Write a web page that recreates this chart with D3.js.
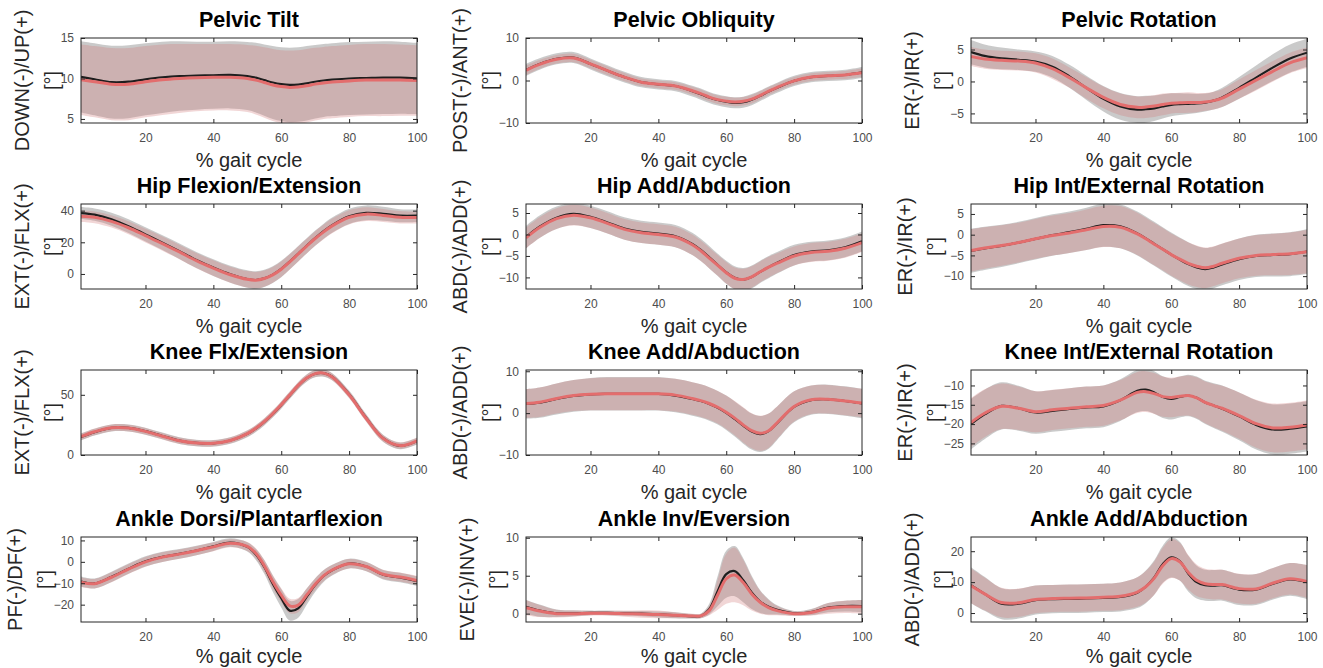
<!DOCTYPE html>
<html>
<head>
<meta charset="utf-8">
<script src="https://cdn.jsdelivr.net/npm/d3@7"></script>
<style>
    body { margin: 0; background: #fff; }
    svg { display: block; font-family: "Liberation Sans", Arial, sans-serif; }
</style>
</head>
<body>
<svg id="chart" width="1323" height="668"></svg>
<script>
// Gait cycle sample points (%).
const pct = [1, 5, 10, 15, 20, 25, 30, 35, 40, 45, 50, 52.5, 55, 57.5, 60, 62.5, 65, 67.5, 70, 72.5, 75, 80, 85, 90, 95, 100];
const xTicks = [20, 40, 60, 80, 100];

// Pelvic tilt.
const tiltBlack   = [10.2, 9.9, 9.55, 9.6, 9.9, 10.15, 10.3, 10.35, 10.4, 10.45, 10.3, 10.1, 9.8, 9.5, 9.3, 9.2, 9.25, 9.4, 9.6, 9.75, 9.85, 10.0, 10.05, 10.1, 10.1, 10.0];
const tiltBlackSd = [4.4, 4.45, 4.5, 4.5, 4.45, 4.4, 4.3, 4.2, 4.15, 4.15, 4.2, 4.3, 4.4, 4.5, 4.55, 4.6, 4.6, 4.6, 4.55, 4.5, 4.5, 4.5, 4.5, 4.5, 4.45, 4.4];
const tiltRed     = [9.85, 9.6, 9.3, 9.3, 9.6, 9.85, 10.0, 10.1, 10.15, 10.15, 10.0, 9.8, 9.5, 9.2, 9.0, 8.9, 8.95, 9.1, 9.3, 9.45, 9.55, 9.7, 9.8, 9.8, 9.8, 9.75];
const tiltRedSd   = [4.35, 4.4, 4.45, 4.45, 4.4, 4.35, 4.25, 4.15, 4.1, 4.1, 4.15, 4.25, 4.35, 4.45, 4.5, 4.55, 4.55, 4.55, 4.5, 4.45, 4.45, 4.45, 4.45, 4.45, 4.4, 4.35];

// Pelvic obliquity.
const oblBlack   = [2.5, 3.9, 5.1, 5.4, 3.9, 2.3, 0.8, -0.4, -0.9, -1.3, -2.5, -3.2, -4.0, -4.6, -5.0, -5.25, -5.1, -4.5, -3.6, -2.6, -1.7, -0.1, 0.8, 1.1, 1.3, 1.9];
const oblBlackSd = [1.4, 1.35, 1.3, 1.3, 1.3, 1.3, 1.25, 1.2, 1.2, 1.2, 1.25, 1.3, 1.3, 1.3, 1.3, 1.3, 1.3, 1.3, 1.25, 1.2, 1.2, 1.2, 1.2, 1.2, 1.25, 1.3];
const oblRed     = [2.4, 3.8, 5.0, 5.3, 3.9, 2.3, 0.8, -0.4, -0.9, -1.3, -2.4, -3.1, -3.9, -4.5, -4.85, -5.05, -4.9, -4.4, -3.5, -2.5, -1.6, -0.1, 0.8, 1.1, 1.3, 1.8];
const oblRedSd   = [1.1, 1.05, 1.0, 1.0, 1.0, 1.0, 0.95, 0.9, 0.9, 0.9, 0.95, 1.0, 1.0, 1.0, 1.0, 1.0, 1.0, 1.0, 0.95, 0.9, 0.9, 0.9, 0.9, 0.9, 0.95, 1.0];

// Pelvic rotation.
const rotBlack   = [4.6, 4.0, 3.6, 3.4, 3.1, 2.3, 0.8, -1.0, -2.7, -3.9, -4.4, -4.35, -4.2, -3.9, -3.65, -3.55, -3.5, -3.45, -3.3, -3.0, -2.5, -1.0, 0.6, 2.2, 3.6, 4.5];
const rotBlackSd = [1.9, 1.8, 1.7, 1.6, 1.6, 1.7, 1.8, 1.9, 2.0, 2.1, 2.1, 2.1, 2.0, 1.9, 1.8, 1.7, 1.6, 1.5, 1.4, 1.4, 1.5, 1.7, 1.9, 2.1, 2.2, 2.2];
const rotRed     = [3.9, 3.5, 3.3, 3.2, 2.9, 2.0, 0.6, -1.0, -2.5, -3.6, -4.05, -4.0, -3.85, -3.6, -3.4, -3.35, -3.3, -3.3, -3.2, -3.0, -2.6, -1.2, 0.2, 1.6, 2.9, 3.7];
const rotRedSd   = [1.5, 1.5, 1.5, 1.5, 1.5, 1.6, 1.6, 1.7, 1.7, 1.7, 1.7, 1.7, 1.7, 1.7, 1.6, 1.6, 1.6, 1.5, 1.4, 1.4, 1.4, 1.5, 1.6, 1.6, 1.6, 1.6];

// Hip flexion / extension.
const hipFlexBlack   = [38.5, 37.5, 34.6, 30.2, 25.0, 19.8, 14.4, 8.8, 4.0, -0.2, -3.2, -3.8, -2.8, -0.4, 3.2, 7.8, 12.8, 17.8, 22.6, 27.0, 30.8, 36.4, 38.6, 38.0, 36.8, 36.8];
const hipFlexBlackSd = [3.8, 3.9, 4.1, 4.3, 4.5, 4.7, 4.9, 5.1, 5.3, 5.4, 5.5, 5.5, 5.4, 5.3, 5.2, 5.0, 4.9, 4.8, 4.8, 4.8, 4.8, 4.8, 4.7, 4.4, 4.1, 3.9];
const hipFlexRed     = [36.5, 35.8, 33.2, 29.2, 24.2, 19.2, 13.9, 8.4, 3.7, -0.5, -3.4, -3.9, -2.9, -0.6, 3.0, 7.6, 12.6, 17.6, 22.4, 26.6, 30.4, 35.8, 37.8, 37.0, 35.8, 35.6];
const hipFlexRedSd   = [3.6, 3.7, 3.9, 4.1, 4.3, 4.5, 4.6, 4.8, 5.0, 5.1, 5.2, 5.2, 5.1, 5.0, 4.9, 4.8, 4.7, 4.6, 4.6, 4.6, 4.6, 4.5, 4.4, 4.1, 3.9, 3.7];

// Hip add / abduction.
const hipAddBlack   = [-0.6, 1.8, 3.9, 4.8, 4.1, 2.8, 1.4, 0.6, 0.2, -0.4, -2.2, -3.6, -5.3, -7.1, -8.8, -10.1, -10.5, -9.9, -8.7, -7.6, -6.6, -4.8, -4.0, -3.7, -3.0, -1.6];
const hipAddBlackSd = [2.6, 2.6, 2.6, 2.6, 2.6, 2.6, 2.6, 2.6, 2.6, 2.6, 2.6, 2.6, 2.6, 2.6, 2.7, 2.7, 2.7, 2.7, 2.6, 2.6, 2.5, 2.4, 2.3, 2.3, 2.3, 2.3];
const hipAddRed     = [-0.8, 1.6, 3.7, 4.5, 3.9, 2.6, 1.2, 0.4, 0.0, -0.6, -2.4, -3.8, -5.5, -7.2, -8.9, -10.2, -10.5, -9.9, -8.7, -7.6, -6.7, -5.0, -4.2, -3.9, -3.2, -1.9];
const hipAddRedSd   = [2.4, 2.4, 2.4, 2.4, 2.4, 2.4, 2.4, 2.4, 2.4, 2.4, 2.4, 2.4, 2.4, 2.4, 2.5, 2.5, 2.5, 2.5, 2.4, 2.4, 2.3, 2.2, 2.2, 2.2, 2.2, 2.2];

// Hip internal / external rotation.
const hipRotBlack   = [-3.9, -3.3, -2.7, -1.9, -1.0, -0.1, 0.6, 1.4, 2.3, 2.0, 0.3, -0.9, -2.2, -3.5, -4.8, -6.0, -7.1, -7.9, -8.3, -7.9, -7.2, -5.9, -5.1, -4.9, -4.7, -4.1];
const hipRotBlackSd = [5.3, 5.2, 5.1, 5.0, 5.0, 5.0, 5.0, 5.1, 5.2, 5.3, 5.3, 5.3, 5.3, 5.3, 5.3, 5.3, 5.3, 5.2, 5.1, 5.0, 5.0, 5.0, 5.1, 5.2, 5.3, 5.4];
const hipRotRed     = [-3.8, -3.2, -2.6, -1.9, -1.0, -0.2, 0.4, 1.2, 2.0, 1.8, 0.2, -1.0, -2.3, -3.5, -4.8, -5.9, -6.9, -7.6, -8.0, -7.6, -6.9, -5.7, -5.0, -4.8, -4.6, -4.1];
const hipRotRedSd   = [5.1, 5.0, 4.9, 4.8, 4.8, 4.8, 4.8, 4.9, 5.0, 5.1, 5.1, 5.1, 5.1, 5.1, 5.1, 5.1, 5.1, 5.0, 4.9, 4.8, 4.8, 4.8, 4.9, 5.0, 5.1, 5.2];

// Knee flexion / extension.
const kneeFlexBlack   = [15.0, 19.0, 22.5, 22.5, 19.8, 15.8, 12.0, 10.0, 9.7, 12.0, 17.6, 22.0, 27.5, 34.0, 41.5, 49.5, 57.5, 63.8, 67.5, 68.0, 65.0, 50.5, 31.0, 14.0, 7.6, 11.5];
const kneeFlexBlackSd = [2.9, 2.9, 2.9, 2.9, 2.9, 2.8, 2.8, 2.7, 2.7, 2.7, 2.8, 2.8, 2.9, 2.9, 3.0, 3.0, 3.0, 3.0, 3.0, 3.0, 3.0, 3.0, 3.0, 2.9, 2.8, 2.8];
const kneeFlexRed     = [15.3, 19.3, 22.6, 22.4, 19.6, 15.6, 11.8, 9.9, 9.7, 12.1, 17.8, 22.3, 27.8, 34.3, 41.8, 49.8, 57.8, 64.0, 67.6, 68.0, 64.8, 50.0, 30.5, 13.8, 7.8, 11.8];
const kneeFlexRedSd   = [2.8, 2.8, 2.8, 2.8, 2.8, 2.7, 2.7, 2.6, 2.6, 2.6, 2.7, 2.7, 2.8, 2.8, 2.9, 2.9, 2.9, 2.9, 2.9, 2.9, 2.9, 2.9, 2.9, 2.8, 2.7, 2.7];

// Knee add / abduction.
const kneeAddBlack   = [2.2, 2.5, 3.4, 4.1, 4.5, 4.6, 4.6, 4.6, 4.6, 4.2, 3.4, 2.9, 2.2, 1.3, 0.1, -1.4, -3.0, -4.4, -5.0, -4.3, -2.4, 1.5, 3.1, 3.3, 2.9, 2.3];
const kneeAddBlackSd = [3.5, 3.6, 3.7, 3.8, 3.9, 4.0, 4.0, 4.0, 4.0, 4.0, 4.0, 4.0, 4.0, 4.0, 4.1, 4.2, 4.3, 4.3, 4.3, 4.2, 4.0, 3.7, 3.5, 3.5, 3.5, 3.5];
const kneeAddRed     = [2.3, 2.6, 3.5, 4.2, 4.5, 4.6, 4.6, 4.6, 4.6, 4.3, 3.5, 3.0, 2.3, 1.4, 0.2, -1.2, -2.8, -4.2, -4.8, -4.2, -2.3, 1.6, 3.2, 3.3, 2.9, 2.4];
const kneeAddRedSd   = [3.4, 3.5, 3.6, 3.7, 3.8, 3.9, 3.9, 3.9, 3.9, 3.9, 3.9, 3.9, 3.9, 3.9, 4.0, 4.1, 4.2, 4.2, 4.2, 4.1, 3.9, 3.6, 3.4, 3.4, 3.4, 3.4];

// Knee internal / external rotation.
const kneeRotBlack   = [-20.0, -17.5, -15.3, -15.9, -17.0, -16.6, -16.1, -15.7, -15.4, -13.8, -11.4, -11.1, -11.8, -13.0, -13.5, -13.0, -12.6, -13.2, -14.4, -15.2, -16.0, -18.0, -20.2, -21.4, -21.2, -20.6];
const kneeRotBlackSd = [6.5, 6.4, 6.1, 5.8, 5.5, 5.4, 5.4, 5.4, 5.4, 5.4, 5.5, 5.5, 5.5, 5.4, 5.3, 5.3, 5.4, 5.5, 5.6, 5.8, 6.0, 6.2, 6.4, 6.5, 6.5, 6.5];
const kneeRotRed     = [-19.6, -17.2, -15.4, -15.9, -16.8, -16.3, -15.9, -15.5, -15.2, -13.8, -11.8, -11.6, -12.1, -12.9, -13.1, -12.8, -12.6, -13.2, -14.4, -15.2, -15.9, -17.8, -19.9, -21.0, -20.8, -20.2];
const kneeRotRedSd   = [6.3, 6.2, 5.9, 5.6, 5.3, 5.2, 5.2, 5.2, 5.2, 5.2, 5.3, 5.3, 5.3, 5.2, 5.1, 5.1, 5.2, 5.3, 5.4, 5.6, 5.8, 6.0, 6.2, 6.3, 6.3, 6.3];

// Ankle dorsi / plantarflexion.
const ankleDfBlack   = [-9.2, -10.1, -7.0, -3.2, 0.2, 2.3, 3.7, 5.3, 7.2, 9.0, 7.0, 3.5, -2.4, -10.2, -17.0, -22.8, -21.7, -16.3, -10.9, -6.6, -3.9, -0.8, -2.2, -6.0, -7.3, -9.0];
const ankleDfBlackSd = [2.3, 2.3, 2.4, 2.4, 2.4, 2.4, 2.3, 2.2, 2.1, 2.0, 2.2, 2.6, 3.2, 3.8, 4.3, 4.6, 4.4, 3.8, 3.2, 2.8, 2.5, 2.3, 2.2, 2.2, 2.2, 2.2];
const ankleDfRed     = [-9.5, -10.2, -7.2, -3.4, 0.0, 2.2, 3.6, 5.2, 7.0, 8.7, 7.2, 4.0, -1.8, -9.2, -15.6, -20.6, -20.2, -15.5, -10.5, -6.4, -3.8, -0.9, -2.2, -5.8, -7.1, -8.7];
const ankleDfRedSd   = [2.2, 2.2, 2.3, 2.3, 2.3, 2.3, 2.2, 2.1, 2.0, 1.9, 2.1, 2.4, 2.8, 3.1, 3.3, 3.4, 3.3, 3.0, 2.7, 2.5, 2.3, 2.2, 2.1, 2.1, 2.1, 2.1];

// Ankle inversion / eversion.
const ankleInvBlack   = [0.9, 0.4, 0.05, 0.05, 0.1, 0.1, 0.05, 0.0, -0.1, -0.2, -0.35, -0.3, 0.6, 3.0, 5.2, 5.6, 4.4, 2.8, 1.6, 0.9, 0.5, 0.05, 0.2, 0.8, 1.0, 1.0];
const ankleInvBlackSd = [0.9, 0.8, 0.5, 0.4, 0.3, 0.3, 0.3, 0.35, 0.4, 0.4, 0.3, 0.3, 0.7, 2.0, 3.1, 3.3, 2.9, 2.2, 1.5, 1.0, 0.6, 0.3, 0.4, 0.6, 0.7, 0.8];
const ankleInvRed     = [0.8, 0.35, 0.0, 0.0, 0.05, 0.05, 0.0, -0.05, -0.1, -0.2, -0.3, -0.3, 0.4, 2.5, 4.6, 5.1, 4.1, 2.6, 1.5, 0.8, 0.4, 0.0, 0.15, 0.7, 0.9, 0.9];
const ankleInvRedSd   = [1.0, 0.8, 0.5, 0.4, 0.3, 0.3, 0.4, 0.5, 0.5, 0.4, 0.3, 0.3, 0.6, 2.0, 3.3, 3.6, 3.0, 2.2, 1.5, 1.0, 0.6, 0.3, 0.4, 0.7, 0.8, 0.9];

// Ankle add / abduction.
const ankleAddBlack   = [9.0, 6.2, 3.0, 3.0, 4.2, 4.5, 4.6, 4.7, 4.9, 5.2, 6.6, 8.5, 11.5, 15.8, 18.0, 16.8, 12.8, 10.0, 9.0, 8.9, 9.0, 7.6, 7.6, 9.5, 10.9, 10.0];
const ankleAddBlackSd = [5.8, 5.5, 5.0, 4.8, 4.7, 4.6, 4.6, 4.6, 4.6, 4.7, 5.0, 5.3, 5.6, 6.0, 6.5, 6.3, 5.8, 5.3, 5.0, 5.0, 5.0, 5.0, 5.0, 5.1, 5.3, 5.5];
const ankleAddRed     = [8.8, 6.2, 3.4, 3.3, 4.4, 4.7, 4.8, 4.9, 5.1, 5.4, 6.8, 8.5, 11.3, 15.3, 17.6, 16.6, 13.2, 10.6, 9.5, 9.2, 9.2, 7.9, 7.8, 9.7, 11.1, 10.2];
const ankleAddRedSd   = [5.6, 5.3, 4.8, 4.6, 4.5, 4.4, 4.4, 4.4, 4.4, 4.5, 4.8, 5.1, 5.4, 5.8, 6.3, 6.1, 5.6, 5.1, 4.8, 4.8, 4.8, 4.8, 4.8, 4.9, 5.1, 5.3];

// Panel texts and axes.
const titles = ["Pelvic Tilt", "Pelvic Obliquity", "Pelvic Rotation",
    "Hip Flexion/Extension", "Hip Add/Abduction", "Hip Int/External Rotation",
    "Knee Flx/Extension", "Knee Add/Abduction", "Knee Int/External Rotation",
    "Ankle Dorsi/Plantarflexion", "Ankle Inv/Eversion", "Ankle Add/Abduction"];
const yLabels = ["DOWN(-)/UP(+)", "POST(-)/ANT(+)", "ER(-)/IR(+)",
    "EXT(-)/FLX(+)", "ABD(-)/ADD(+)", "ER(-)/IR(+)",
    "EXT(-)/FLX(+)", "ABD(-)/ADD(+)", "ER(-)/IR(+)",
    "PF(-)/DF(+)", "EVE(-)/INV(+)", "ABD(-)/ADD(+)"];
const yTicks = [[5, 10, 15], [-10, 0, 10], [-5, 0, 5],
    [0, 20, 40], [-10, -5, 0, 5], [-10, -5, 0, 5],
    [0, 50], [-10, 0, 10], [-25, -20, -15, -10],
    [-20, -10, 0, 10], [0, 5, 10], [0, 10, 20]];
const yLimits = [[4.5, 15], [-10, 10], [-6.5, 6.8],
    [-9.5, 44.2], [-12.7, 7.1], [-13.1, 7.4],
    [0, 70.6], [-10, 10.3], [-28, -6],
    [-28.1, 11.6], [-1.1, 10.1], [-2.9, 24.6]];

const blackMeans = [tiltBlack, oblBlack, rotBlack, hipFlexBlack, hipAddBlack, hipRotBlack,
    kneeFlexBlack, kneeAddBlack, kneeRotBlack, ankleDfBlack, ankleInvBlack, ankleAddBlack];
const blackSds = [tiltBlackSd, oblBlackSd, rotBlackSd, hipFlexBlackSd, hipAddBlackSd, hipRotBlackSd,
    kneeFlexBlackSd, kneeAddBlackSd, kneeRotBlackSd, ankleDfBlackSd, ankleInvBlackSd, ankleAddBlackSd];
const redMeans = [tiltRed, oblRed, rotRed, hipFlexRed, hipAddRed, hipRotRed,
    kneeFlexRed, kneeAddRed, kneeRotRed, ankleDfRed, ankleInvRed, ankleAddRed];
const redSds = [tiltRedSd, oblRedSd, rotRedSd, hipFlexRedSd, hipAddRedSd, hipRotRedSd,
    kneeFlexRedSd, kneeAddRedSd, kneeRotRedSd, ankleDfRedSd, ankleInvRedSd, ankleAddRedSd];

// Layout.
const colLeft = [81, 526, 971];
const rowTop = [38, 204, 370, 537];
const plotW = 336;
const plotH = 85;
const tickLen = 4;

const svg = d3.select("#chart");

titles.forEach(function(title, i) {
    let col = i % 3;
    let row = Math.floor(i / 3);

    let g = svg.append("g")
        .attr("transform", `translate(${colLeft[col]},${rowTop[row]})`);

    let x = d3.scaleLinear().domain([1, 100]).range([0, plotW]);
    let y = d3.scaleLinear().domain(yLimits[i]).range([plotH, 0]);

    // Clip marks to the axes box.
    g.append("clipPath")
        .attr("id", `clip_${i}`)
        .append("rect")
        .attr("width", plotW)
        .attr("height", plotH);

    let marks = g.append("g").attr("clip-path", `url(#clip_${i})`);

    let band = function(mean, sd) {
        return d3.area()
            .x((d, k) => x(pct[k]))
            .y0((d, k) => y(mean[k] - sd[k]))
            .y1((d, k) => y(mean[k] + sd[k]))
            .curve(d3.curveCatmullRom.alpha(0.5))(mean);
    };
    let line = d3.line()
        .x((d, k) => x(pct[k]))
        .y(d => y(d))
        .curve(d3.curveCatmullRom.alpha(0.5));

    marks.append("path")
        .attr("d", band(blackMeans[i], blackSds[i]))
        .attr("fill", "#9e9e9e")
        .attr("fill-opacity", 0.55);

    marks.append("path")
        .attr("d", band(redMeans[i], redSds[i]))
        .attr("fill", "#d27878")
        .attr("fill-opacity", 0.3);

    marks.append("path")
        .attr("d", line(blackMeans[i]))
        .attr("fill", "none")
        .attr("stroke", "#1e1e1e")
        .attr("stroke-width", 2.2);

    marks.append("path")
        .attr("d", line(redMeans[i]))
        .attr("fill", "none")
        .attr("stroke", "#e36d6d")
        .attr("stroke-width", 3);

    // Axes with inward ticks on all four sides.
    g.append("g")
        .attr("transform", `translate(0,${plotH})`)
        .call(d3.axisBottom(x).tickValues(xTicks).tickSize(-tickLen).tickPadding(10));
    g.append("g")
        .call(d3.axisTop(x).tickValues(xTicks).tickSize(-tickLen).tickFormat(""));
    let yAxis = g.append("g")
        .call(d3.axisLeft(y).tickValues(yTicks[i]).tickSize(-tickLen).tickPadding(7));
    g.append("g")
        .attr("transform", `translate(${plotW},0)`)
        .call(d3.axisRight(y).tickValues(yTicks[i]).tickSize(-tickLen).tickFormat(""));

    g.selectAll(".domain").remove();
    g.selectAll(".tick line").attr("stroke", "#262626");
    g.selectAll(".tick text")
        .attr("fill", "#4d4d4d")
        .style("font-size", "12px")
        .style("font-family", "\"Liberation Sans\", Arial, sans-serif");

    g.append("rect")
        .attr("width", plotW)
        .attr("height", plotH)
        .attr("fill", "none")
        .attr("stroke", "#262626")
        .attr("stroke-width", 1);

    // Title.
    g.append("text")
        .attr("x", plotW / 2)
        .attr("y", -11)
        .attr("text-anchor", "middle")
        .style("font-size", "21.5px")
        .style("font-weight", "bold")
        .attr("fill", "#000")
        .text(title);

    // X label (bottom row nudged up so descenders stay on the page).
    g.append("text")
        .attr("x", plotW / 2)
        .attr("y", plotH + (row === 3 ? 41 : 44))
        .attr("text-anchor", "middle")
        .style("font-size", "20px")
        .attr("fill", "#262626")
        .text("% gait cycle");

    // Y label sits left of the widest tick label.
    let maxW = d3.max(yAxis.selectAll(".tick text").nodes(), n => n.getBBox().width);
    let base2 = -(8 + maxW);
    let ylab = g.append("text")
        .attr("transform", `translate(${base2 - 30},${plotH / 2}) rotate(-90)`)
        .attr("text-anchor", "middle")
        .style("font-size", "20px")
        .attr("fill", "#262626");
    ylab.append("tspan").attr("x", 0).attr("y", 0).text(yLabels[i]);
    ylab.append("tspan").attr("x", 0).attr("y", 30).text("[°]");
});
</script>
</body>
</html>
